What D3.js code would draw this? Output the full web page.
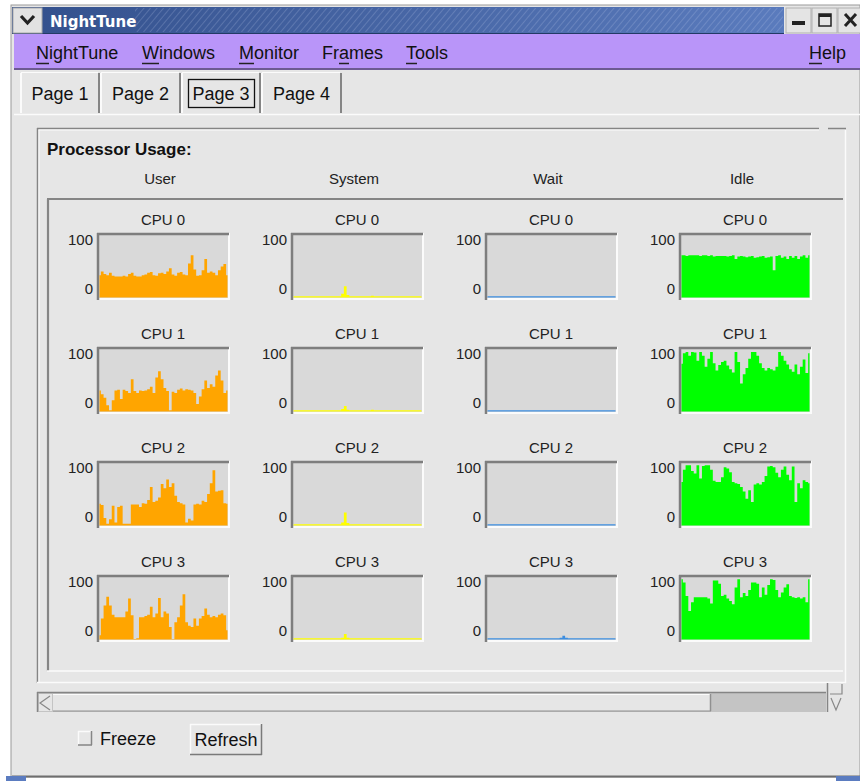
<!DOCTYPE html>
<html>
<head>
<meta charset="utf-8">
<script src="https://cdn.jsdelivr.net/npm/d3@7"></script>
<style>
  body { margin: 0; background: #fff; }
  svg { display: block; font-family: "Liberation Sans", Arial, sans-serif; }
</style>
</head>
<body>
<div id="app"></div>
<script>
// ---- data (percent, 48 samples per graph) ----
const metrics = ["User", "System", "Wait", "Idle"];
const cpus = ["CPU 0", "CPU 1", "CPU 2", "CPU 3"];
const yTicks = [0, 100];
const menuItems = ["NightTune", "Windows", "Monitor", "Frames", "Tools"];
const tabs = ["Page 1", "Page 2", "Page 3", "Page 4"];

const user0 = [36,42,38,36,40,35,34,34,34,35,34,38,40,35,34,34,36,37,40,41,36,35,39,40,38,42,47,37,35,40,41,37,36,55,68,45,35,36,44,62,40,42,40,36,44,50,54,36];
const user1 = [34,28,22,10,2,18,34,35,20,35,33,30,52,33,30,34,33,34,36,40,30,55,65,52,38,33,2,32,30,35,37,34,36,35,34,30,12,24,36,50,38,44,40,58,66,50,30,34];
const user2 = [35,33,12,3,10,32,5,30,32,3,3,3,34,34,34,30,36,35,41,62,38,40,45,67,60,74,62,68,48,38,36,34,5,11,8,34,35,34,40,38,51,68,89,55,56,57,36,35];
const user3 = [7,34,55,69,55,40,36,36,36,36,45,66,39,1,2,36,36,38,40,53,36,42,67,36,45,42,20,1,28,36,55,73,28,22,20,34,22,34,38,50,40,36,38,36,40,42,39,15];

const sys0 = [2,2,2,2,2,2,2,2,2,2,2,2,2,2,2,2,2,2,6,18,4,2,2,2,2,2,2,2,2,3,2,2,2,2,2,2,2,2,2,2,2,2,2,2,2,2,2,2];
const sys1 = [2,2,2,2,2,2,2,2,2,2,2,2,2,2,2,2,2,2,4,9,3,2,2,2,2,2,2,2,2,3,2,2,2,2,2,2,2,2,2,2,2,2,2,2,2,2,2,2];
const sys2 = [2,2,2,2,2,2,2,2,2,2,2,2,2,2,2,2,2,2,5,21,4,2,2,2,2,2,2,2,2,2,2,2,2,2,2,2,2,2,2,2,2,2,2,2,2,2,2,2];
const sys3 = [2,2,2,2,2,2,2,2,2,2,2,2,2,2,2,2,2,2,3,9,3,2,2,2,2,2,2,2,2,2,2,2,2,2,2,2,2,2,2,2,2,2,2,2,2,2,2,2];

const wait0 = [2,2,2,2,2,2,2,2,2,2,2,2,2,2,2,2,2,2,2,2,2,2,2,2,2,2,2,2,2,2,2,2,2,2,2,2,2,2,2,2,2,2,2,2,2,2,2,2];
const wait1 = [2,2,2,2,2,2,2,2,2,2,2,2,2,2,2,2,2,2,2,2,2,2,2,2,2,2,2,2,2,2,2,2,2,2,2,2,2,2,2,2,2,2,2,2,2,2,2,2];
const wait2 = [2,2,2,2,2,2,2,2,2,2,2,2,2,2,2,2,2,2,2,2,2,2,2,2,2,2,2,2,2,2,2,2,2,2,2,2,2,2,2,2,2,2,2,2,2,2,2,2];
const wait3 = [2,2,2,2,2,2,2,2,2,2,2,2,2,2,2,2,2,2,2,2,2,2,2,2,2,2,2,3,6,3,2,2,2,2,2,2,2,2,2,2,2,2,2,2,2,2,2,2];

const idle0 = [68,68,67,68,68,68,68,67,68,68,67,68,66,67,67,67,67,66,67,68,62,66,67,66,65,66,67,64,65,66,67,64,65,66,44,67,68,64,66,62,67,64,67,62,66,68,64,68];
const idle1 = [77,94,96,90,96,95,82,96,90,72,85,96,78,66,75,80,82,74,68,63,96,80,45,60,70,85,96,96,90,78,70,66,70,68,66,72,96,90,82,76,68,64,76,60,72,84,62,94];
const idle2 = [70,90,97,97,88,84,97,76,96,97,97,90,72,70,70,78,94,92,86,70,68,67,62,55,43,57,38,66,68,66,70,80,95,96,94,85,78,90,95,82,73,95,38,68,60,73,70,68];
const idle3 = [97,92,70,46,60,68,68,68,68,68,66,58,95,95,90,70,72,66,62,57,84,97,68,75,70,80,92,92,90,68,84,72,88,97,96,80,68,76,84,89,70,68,67,68,66,68,60,97];

const series = {
  User:   [user0, user1, user2, user3],
  System: [sys0, sys1, sys2, sys3],
  Wait:   [wait0, wait1, wait2, wait3],
  Idle:   [idle0, idle1, idle2, idle3]
};
const colors = { User: "#ffa500", System: "#ffff00", Wait: "#3d8ee0", Idle: "#00ff00" };

const W = 860, H = 781;
const bg = "#e6e6e6", dark = "#858585", light = "#fbfbfb";

const svg = d3.select("#app").append("svg").attr("width", W).attr("height", H);
const defs = svg.append("defs");

function line(g, x1, y1, x2, y2, color, w) {
  g.append("line").attr("x1", x1).attr("y1", y1).attr("x2", x2).attr("y2", y2)
    .attr("stroke", color).attr("stroke-width", w || 1);
}

// ---- window ----
svg.append("rect").attr("x", 11).attr("y", 5).attr("width", W - 11).attr("height", 772)
  .attr("fill", bg).attr("stroke", "#9a9a9a");
line(svg, 12, 776.5, W, 776.5, "#6e6e6e", 2);
svg.append("rect").attr("x", 6).attr("y", 776).attr("width", 20).attr("height", 5).attr("fill", "#5b7cc0");
svg.append("rect").attr("x", 836).attr("y", 776).attr("width", 24).attr("height", 5).attr("fill", "#5b7cc0");

// title bar
const grad = defs.append("linearGradient").attr("id", "tb").attr("x1", 0).attr("x2", 1);
grad.append("stop").attr("offset", 0).attr("stop-color", "#33508c");
grad.append("stop").attr("offset", 1).attr("stop-color", "#5a7bbd");
const pat = defs.append("pattern").attr("id", "hatch").attr("width", 5).attr("height", 5)
  .attr("patternUnits", "userSpaceOnUse").attr("patternTransform", "rotate(40)");
pat.append("line").attr("x1", 0).attr("y1", 0).attr("x2", 0).attr("y2", 5)
  .attr("stroke", "#c8d4f0").attr("stroke-opacity", 0.35).attr("stroke-width", 1.2);

svg.append("rect").attr("x", 12).attr("y", 7).attr("width", 772).attr("height", 26).attr("fill", "url(#tb)");
svg.append("rect").attr("x", 135).attr("y", 8).attr("width", 648).attr("height", 24).attr("fill", "url(#hatch)");
line(svg, 12, 33.5, 784, 33.5, "#233a66", 1);
svg.append("text").attr("x", 50).attr("y", 27).attr("fill", "#fff").attr("font-weight", "bold")
  .attr("font-size", 15).attr("font-family", "DejaVu Sans, sans-serif").text("NightTune");

// left menu button
svg.append("rect").attr("x", 13).attr("y", 8).attr("width", 29).attr("height", 25).attr("fill", "#e2e2e2").attr("stroke", "#aaa");
svg.append("path").attr("d", "M21,16 L27.5,23 L34,16").attr("fill", "none").attr("stroke", "#222").attr("stroke-width", 3.2);

// right buttons
[[786, "min"], [812, "max"], [838, "close"]].forEach(([bx, kind]) => {
  svg.append("rect").attr("x", bx).attr("y", 8).attr("width", 25).attr("height", 25).attr("fill", "#e4e4e4").attr("stroke", "#b0b0b0");
  if (kind === "min") svg.append("rect").attr("x", bx + 6).attr("y", 21).attr("width", 13).attr("height", 4).attr("fill", "#222");
  if (kind === "max") {
    svg.append("rect").attr("x", bx + 7).attr("y", 14).attr("width", 12).attr("height", 12).attr("fill", "none").attr("stroke", "#222").attr("stroke-width", 1.5);
    svg.append("rect").attr("x", bx + 7).attr("y", 14).attr("width", 12).attr("height", 3).attr("fill", "#222");
  }
  if (kind === "close") svg.append("path").attr("d", `M${bx + 7},14 L${bx + 18},26 M${bx + 18},14 L${bx + 7},26`).attr("stroke", "#222").attr("stroke-width", 3);
});

// menu bar
svg.append("rect").attr("x", 14).attr("y", 34).attr("width", W - 14).attr("height", 35).attr("fill", "#b995f9");
line(svg, 14, 69, W, 69, "#6c5a92", 2);
const menuX = [36, 142, 239, 322, 406];
const underline = [0, 0, 0, 2, 0];
const menu = svg.append("g").attr("font-size", 18).attr("fill", "#111");
menuItems.forEach((m, i) => {
  menu.append("text").attr("x", menuX[i]).attr("y", 59).text(m);
  // underline the mnemonic letter
  const pre = m.slice(0, underline[i]);
  const ch = m[underline[i]];
  const tmp = menu.append("text").attr("visibility", "hidden").text(pre);
  const off = pre ? tmp.node().getComputedTextLength() : 0;
  tmp.text(ch);
  const cw = tmp.node().getComputedTextLength();
  tmp.remove();
  line(menu, menuX[i] + off, 63.5, menuX[i] + off + cw, 63.5, "#222", 1.5);
});
menu.append("text").attr("x", 809).attr("y", 59).text("Help");
line(menu, 809, 63.5, 822, 63.5, "#222", 1.5);

// tabs
const tabX = [20, 100, 181, 261, 342];
const tabG = svg.append("g").attr("font-size", 18).attr("fill", "#111");
tabs.forEach((t, i) => {
  const x0 = tabX[i], x1 = tabX[i + 1];
  line(tabG, x0 + 1, 73, x0 + 1, 113, light, 2);
  line(tabG, x0 + 1, 72.5, x1 - 2, 72.5, light, 1);
  line(tabG, x1 - 1, 73, x1 - 1, 113, dark, 2);
  tabG.append("text").attr("x", (x0 + x1) / 2).attr("y", 100).attr("text-anchor", "middle").text(t);
});
tabG.append("rect").attr("x", 188.5).attr("y", 79.5).attr("width", 66).attr("height", 28)
  .attr("fill", "none").attr("stroke", "#111").attr("stroke-width", 1.3);
line(svg, 14, 114.5, W, 114.5, light, 1.5);

// ---- Processor Usage group ----
line(svg, 37, 128.5, 819, 128.5, dark, 1.5);
line(svg, 37, 130, 819, 130, light, 1);
line(svg, 828, 128.5, 846, 128.5, dark, 1.5);
line(svg, 37.5, 128, 37.5, 683, dark, 1.5);
line(svg, 39, 130, 39, 682, light, 1);
line(svg, 845.5, 130, 845.5, 683, light, 1.5);
line(svg, 37, 682.5, 846, 682.5, light, 1.5);

svg.append("text").attr("x", 47).attr("y", 155).attr("font-size", 17).attr("font-weight", "bold")
  .attr("fill", "#111").text("Processor Usage:");

// inner sunken frame
line(svg, 47, 199, 843, 199, dark, 2.2);
line(svg, 48, 199, 48, 671, dark, 2.2);
line(svg, 47, 671, 843, 671, light, 1.5);

// ---- graph grid ----
const col = d3.scaleBand().domain(metrics).range([97, 97 + 194 * 4]);
const row = d3.scaleBand().domain(cpus).range([233, 233 + 114 * 4]);
const boxW = 133, boxH = 67;

svg.append("g").attr("font-size", 15).attr("fill", "#222")
  .selectAll("text").data(metrics).join("text")
  .attr("x", d => col(d) + 63).attr("y", 184).attr("text-anchor", "middle").text(d => d);

metrics.forEach(m => {
  cpus.forEach((c, ci) => {
    const x0 = col(m), y0 = row(c);
    const data = series[m][ci];
    const g = svg.append("g");

    g.append("text").attr("x", x0 + 66).attr("y", y0 - 8).attr("text-anchor", "middle")
      .attr("font-size", 15).attr("fill", "#222").text(c);

    // box: sunken border
    g.append("rect").attr("x", x0).attr("y", y0).attr("width", boxW).attr("height", boxH).attr("fill", light);
    g.append("rect").attr("x", x0 + 2).attr("y", y0 + 2).attr("width", boxW - 4).attr("height", boxH - 4).attr("fill", "#d9d9d9");
    line(g, x0, y0 + 1, x0 + boxW - 1, y0 + 1, "#7e7e7e", 2.5);
    line(g, x0 + 1, y0, x0 + 1, y0 + boxH, "#7e7e7e", 2.5);

    const x = d3.scaleLinear().domain([0, data.length - 1]).range([x0 + 2.5, x0 + boxW - 2.5]);
    const y = d3.scaleLinear().domain([0, 100]).range([y0 + 64.5, y0 + 2.5]);

    const area = d3.area().curve(d3.curveStep)
      .x((d, i) => x(i)).y0(y(0)).y1(d => y(d));
    g.append("path").datum(data).attr("d", area).attr("fill", colors[m]);

    const axis = d3.axisLeft(y).tickValues(yTicks).tickSize(0).tickPadding(0);
    const ax = g.append("g").attr("transform", `translate(${x0 - 4},0)`).call(axis);
    ax.select(".domain").remove();
    ax.selectAll("text").attr("font-size", 15).attr("font-family", "Liberation Sans, Arial, sans-serif")
      .attr("fill", "#222").attr("dy", d => d === 100 ? "9px" : "-4px");
  });
});

// ---- scrollbar ----
svg.append("rect").attr("x", 37).attr("y", 692).attr("width", 789).attr("height", 20).attr("fill", "#c4c4c4");
line(svg, 37, 692.5, 826, 692.5, dark, 1.5);
line(svg, 37.5, 692, 37.5, 712, dark, 1.5);
svg.append("rect").attr("x", 53).attr("y", 694).attr("width", 658).attr("height", 17).attr("fill", bg);
line(svg, 53, 694.5, 711, 694.5, light, 1);
line(svg, 710.5, 694, 710.5, 711, "#909090", 1.5);
line(svg, 53, 711, 711, 711, "#909090", 1);
svg.append("rect").attr("x", 39).attr("y", 694).attr("width", 13).attr("height", 17).attr("fill", bg);
svg.append("path").attr("d", "M50,696 L40,703 L50,710").attr("fill", "none").attr("stroke", "#888").attr("stroke-width", 1.2);
// right corner arrow
svg.append("rect").attr("x", 827).attr("y", 683).attr("width", 18).attr("height", 29).attr("fill", bg);
line(svg, 827.5, 683, 827.5, 712, dark, 1.5);
svg.append("path").attr("d", "M830,694 L842,694 L842,684").attr("fill", "none").attr("stroke", "#888").attr("stroke-width", 1.2);
svg.append("path").attr("d", "M831,698 L836,710 L841,698").attr("fill", "none").attr("stroke", "#888").attr("stroke-width", 1.2);

// ---- freeze / refresh ----
svg.append("rect").attr("x", 78).attr("y", 731).attr("width", 14).attr("height", 14).attr("fill", bg);
line(svg, 78, 731.5, 92, 731.5, light, 1.5);
line(svg, 78.5, 731, 78.5, 745, light, 1.5);
line(svg, 78, 745, 92, 745, dark, 1.5);
line(svg, 91.5, 731, 91.5, 745, dark, 1.5);
svg.append("text").attr("x", 100).attr("y", 745).attr("font-size", 18)
  .attr("font-family", "Liberation Sans Narrow, Liberation Sans, Arial, sans-serif").attr("fill", "#111").text("Freeze");

svg.append("rect").attr("x", 190).attr("y", 724).attr("width", 72).attr("height", 31).attr("fill", bg);
line(svg, 190, 724.5, 262, 724.5, light, 1.5);
line(svg, 190.5, 724, 190.5, 755, light, 1.5);
line(svg, 190, 754.5, 262, 754.5, "#7a7a7a", 1.5);
line(svg, 261.5, 724, 261.5, 755, "#7a7a7a", 1.5);
svg.append("text").attr("x", 226).attr("y", 746).attr("text-anchor", "middle").attr("font-size", 18)
  .attr("font-family", "Liberation Sans Narrow, Liberation Sans, Arial, sans-serif").attr("fill", "#111").text("Refresh");
</script>
</body>
</html>
